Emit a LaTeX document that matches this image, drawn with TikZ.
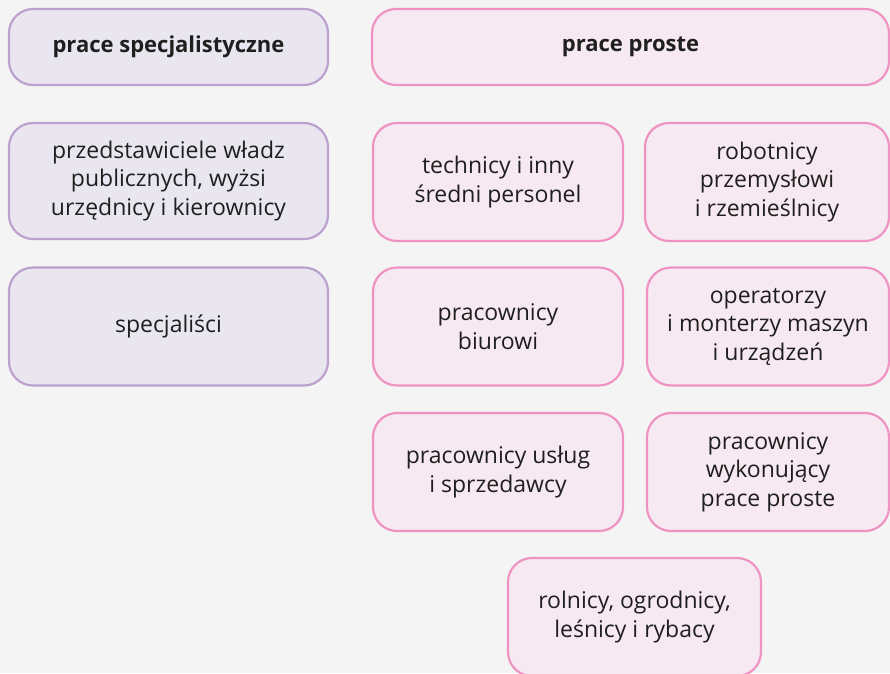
\documentclass[tikz,border=0pt]{standalone}
\usepackage{fontspec}
\setmainfont{Open Sans}
\definecolor{bgcol}{HTML}{F4F4F4}
\definecolor{lilafill}{HTML}{E9E6F0}
\definecolor{lilaline}{HTML}{BBA2CE}
\definecolor{rosefill}{HTML}{F7E9F1}
\definecolor{roseline}{HTML}{EF93C3}
\tikzset{
  cell/.style={rounded corners=24pt, line width=2.2pt, align=center,
    font=\fontsize{23}{28.5}\selectfont, text=black!88},
  spec/.style={cell, draw=lilaline, fill=lilafill},
  simple/.style={cell, draw=roseline, fill=rosefill},
}
\begin{document}
\begin{tikzpicture}[x=1pt,y=-1pt]
    \fill[bgcol] (0,0) rectangle (890,673);
    \useasboundingbox (0,0) rectangle (890,673);

    % headers
    \node[spec, minimum width=319pt, minimum height=76pt] (hspec) at (168.5,47) {\fontsize{22}{28.5}\selectfont\textbf{prace specjalistyczne}};
    \node[simple, minimum width=517pt, minimum height=76pt] (hsimple) at (630.5,47) {\fontsize{22}{28.5}\selectfont\textbf{prace proste}};

    % left column
    \node[spec, minimum width=319pt, minimum height=116pt] (wladze) at (168.5,181) {przedstawiciele władz\\publicznych, wyżsi\\urzędnicy i kierownicy};
    \node[spec, minimum width=319pt, minimum height=118pt] (specjal) at (168.5,326.5) {specjaliści};

    % right columns
    \node[simple, minimum width=250pt, minimum height=118pt] (technicy) at (498,182) {technicy i inny\\średni personel};
    \node[simple, minimum width=244pt, minimum height=118pt] (robotnicy) at (767,182) {robotnicy\\przemysłowi\\i rzemieślnicy};
    \node[simple, minimum width=250pt, minimum height=118pt] (biurowi) at (498,326.5) {pracownicy\\biurowi};
    \node[simple, minimum width=242pt, minimum height=118pt] (operatorzy) at (768,326.5) {operatorzy\\i monterzy maszyn\\i urządzeń};
    \node[simple, minimum width=250pt, minimum height=118pt] (uslugi) at (498,472) {pracownicy usług\\i sprzedawcy};
    \node[simple, minimum width=242pt, minimum height=118pt] (wykon) at (768,472) {pracownicy\\wykonujący\\prace proste};
    \node[simple, minimum width=253pt, minimum height=118pt] (rolnicy) at (634.5,617) {rolnicy, ogrodnicy,\\leśnicy i rybacy};
\end{tikzpicture}
\end{document}
